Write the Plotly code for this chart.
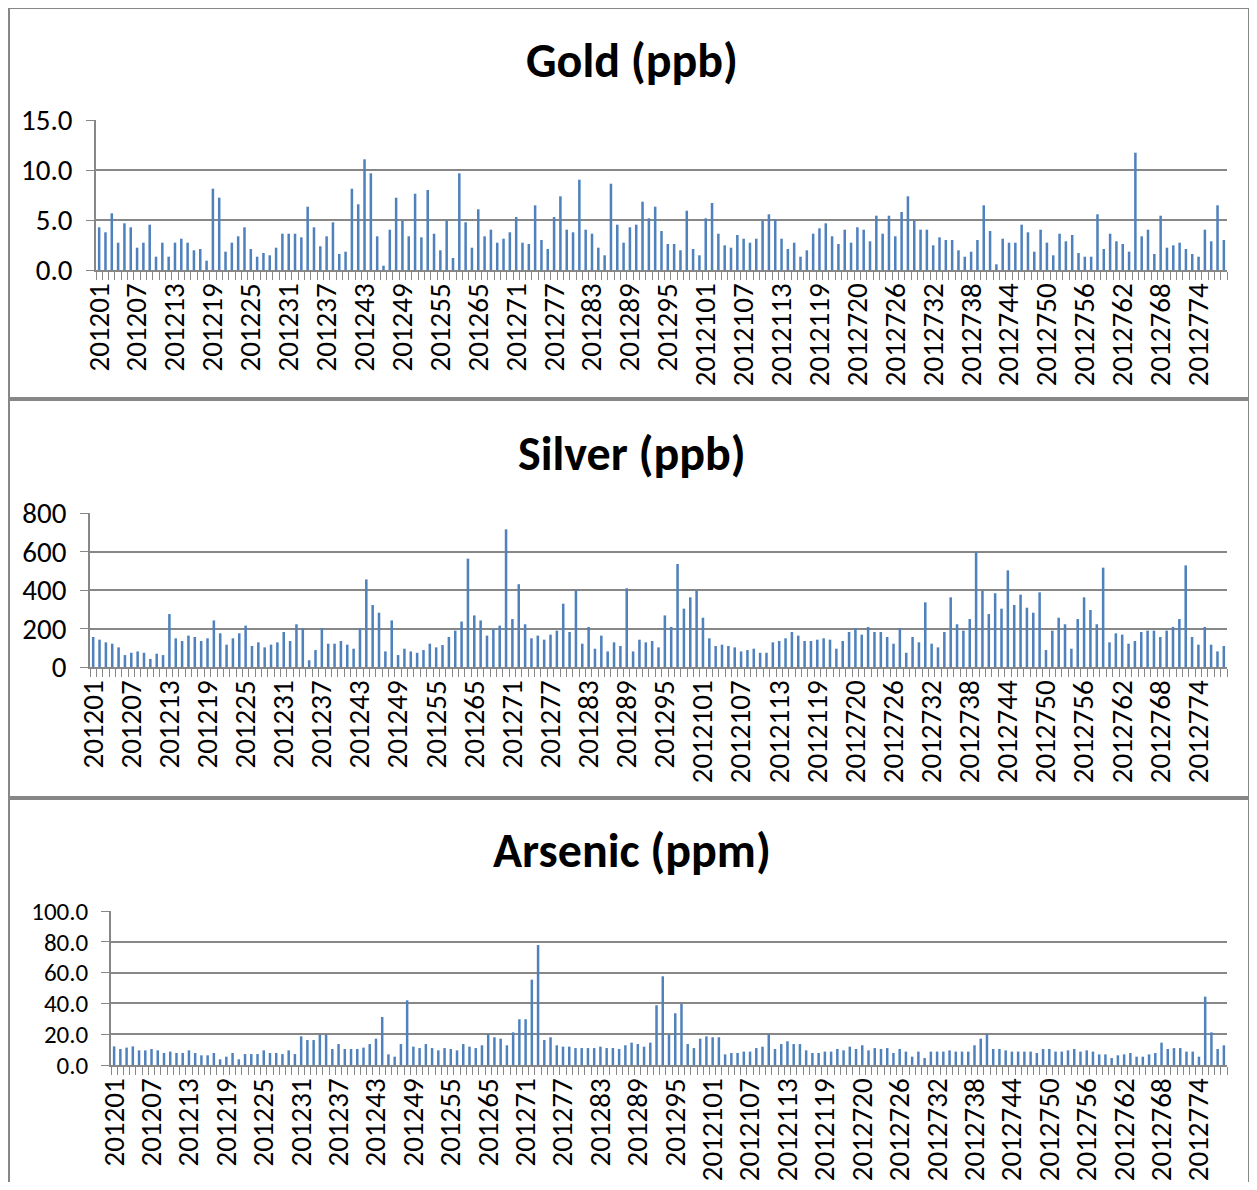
import plotly.graph_objects as go

# sample ids (categories) - every 6th one is labelled on the axis
sample_ids = ([f"2012{i:02d}" for i in range(1, 61)]
              + [f"2012{i}" for i in range(65, 101)]
              + [f"2012{i}" for i in range(101, 125)]
              + [f"20127{i:02d}" for i in range(20, 79)])

gold = [4.27, 3.77, 5.67, 2.73, 4.67, 4.27, 2.23, 2.73, 4.53, 1.33,
        2.73, 1.33, 2.73, 3.13, 2.73, 1.97, 2.1, 0.93, 8.13, 7.23,
        1.83, 2.73, 3.37, 4.27, 2.1, 1.33, 1.7, 1.47, 2.23, 3.63,
        3.63, 3.63, 3.27, 6.33, 4.27, 2.37, 3.37, 4.77, 1.6, 1.83,
        8.13, 6.57, 11.07, 9.67, 3.37,
        0.43, 4.03, 7.23, 4.93, 3.37, 7.63, 3.27, 8.0, 3.63, 1.97,
        4.93, 1.2, 9.67, 4.77, 2.23, 6.07, 3.37, 4.03, 2.73, 3.13,
        3.77, 5.3, 2.73, 2.6, 6.47, 3.0, 2.1, 5.3, 7.37, 4.03,
        3.77, 9.03, 4.03, 3.63, 2.23, 1.47, 8.63, 4.53, 2.73, 4.27,
        4.53, 6.83, 5.17, 6.33, 3.9,
        2.6, 2.6, 1.97, 5.93, 2.1, 1.47, 5.17, 6.7, 3.63, 2.47,
        2.23, 3.5, 3.13, 2.73, 3.13, 4.93, 5.57, 5.03, 3.13, 2.1,
        2.73, 1.33, 1.97, 3.63, 4.17, 4.67, 3.37, 2.6, 4.03, 2.73,
        4.27, 4.03, 2.87, 5.43, 3.63, 5.43, 3.37, 5.8, 7.37, 4.93,
        4.03, 4.03, 2.47, 3.27,
        3.0, 3.0, 1.97, 1.33, 1.83, 3.0, 6.47, 3.9, 0.57, 3.13,
        2.73, 2.73, 4.53, 3.77, 1.83, 4.03, 2.73, 1.47, 3.63, 2.87,
        3.5, 1.7, 1.33, 1.33, 5.57, 2.1, 3.63, 2.87, 2.6, 1.83,
        11.73, 3.37, 4.03, 1.6, 5.43, 2.23, 2.47, 2.73, 2.1, 1.6,
        1.33, 4.03, 2.87, 6.47, 3.0]

silver = [156, 142, 128, 121, 102, 62, 74, 81, 74, 42,
          69, 62, 275, 149, 135, 163, 156, 135, 149, 242,
          175, 116, 149, 175, 215, 109, 128, 102, 116, 128,
          182, 135, 222, 201, 35, 88, 201, 121, 121, 135,
          116, 95, 201, 455, 322, 282,
          81, 242, 62, 95, 81, 74, 88, 121, 102, 114,
          156, 189, 236, 563, 268, 242, 163, 196, 215, 715,
          249, 430, 222, 149, 163, 142, 168, 189, 329, 182,
          398, 121, 208, 95, 163, 81, 128, 109, 409, 81,
          142, 128, 135, 102,
          268, 208, 535, 303, 362, 397, 256, 149, 109, 116,
          109, 102, 81, 88, 95, 74, 74, 128, 135, 149,
          182, 163, 135, 135, 142, 149, 142, 95, 135, 182,
          201, 168, 208, 182, 182, 156, 121, 201, 74, 156,
          128, 336, 121, 102, 182,
          362, 222, 189, 249, 598, 397, 275, 383, 303, 502,
          322, 376, 308, 282, 388, 88, 189, 256, 222, 95,
          249, 362, 296, 222, 516, 128, 175, 168, 121, 135,
          182, 189, 189, 156, 189, 208, 249, 528, 156, 116,
          208, 116, 81, 109]

arsenic = [12.1, 10.4, 11.3, 12.1, 9.5, 9.5, 10.4, 9.5, 7.8, 8.7,
           7.8, 7.8, 9.5, 7.8, 6.3, 6.3, 7.8, 3.7, 5.4, 7.8,
           3.7, 7.1, 7.1, 7.1, 9.5, 7.8, 7.8, 7.1, 9.5, 7.1,
           18.6, 16.2, 16.2, 19.7, 19.7, 10.4, 13.6, 10.4, 10.4, 10.4,
           11.3, 13.6, 17.1,
           31.2, 6.9, 5.4, 13.6, 42.0, 11.9, 11.0, 13.6, 11.0, 9.5,
           11.0, 10.4, 9.5, 13.6, 11.9, 11.0, 12.8, 19.9, 18.0, 17.1,
           12.8, 21.2, 29.7, 29.7, 55.4, 77.9, 16.2, 18.0, 12.8, 11.9,
           11.9, 11.0, 11.0, 11.0, 11.0, 11.9, 11.0, 11.0, 10.4, 12.8,
           14.5, 13.6, 11.9, 14.5, 38.8, 57.6,
           19.7, 33.6, 39.8, 13.6, 11.0, 17.1, 18.6, 18.0, 18.0, 6.9,
           7.8, 7.8, 8.7, 8.7, 11.0, 11.9, 19.9, 10.4, 13.6, 15.4,
           13.6, 13.6, 9.5, 7.8, 7.8, 8.7, 8.7, 10.4, 9.5, 11.9,
           10.4, 12.8, 9.5, 11.0, 10.4, 11.0, 7.8, 10.4, 8.7, 5.4,
           8.7, 4.5, 8.7, 8.7, 8.7,
           9.5, 8.7, 8.7, 8.7, 12.8, 17.1, 19.9, 10.4, 10.4, 9.5,
           8.7, 8.7, 8.7, 8.7, 7.8, 10.4, 10.4, 8.7, 8.7, 9.5,
           10.4, 8.7, 9.5, 8.7, 6.9, 6.9, 4.5, 6.3, 6.9, 7.8,
           5.4, 5.4, 6.9, 7.8, 14.5, 10.4, 11.0, 11.0, 8.7, 8.7,
           5.4, 44.4, 21.2, 10.4, 12.8]

titles = ["Gold (ppb)", "Silver (ppb)", "Arsenic (ppm)"]

# page layout in screen pixels (body margin is 8px)
W, H = 1241, 1174
def px(x):
    return (x - 8) / W
def py(y):
    return 1 - (y - 8) / H

BLUE = "#4F81BD"
GRID = "#878787"
FONT = "Calibri, Carlito, Lato, sans-serif"

panels = [
    # (values, plot left, plot top, plot bottom, y max, dtick, format, title y, y font)
    (gold, 96, 120, 270, 15, 5, ".1f", 60, 29),
    (silver, 90, 513, 667, 800, 200, "d", 453, 29),
    (arsenic, 111, 911, 1065, 100, 20, ".1f", 851, 25),
]

ticktext = [c if i % 6 == 0 else "" for i, c in enumerate(sample_ids)]

fig = go.Figure()
annotations = []
for k, (vals, left, top, bottom, ymax, dt, fmt, ty, yfs) in enumerate(panels):
    n = "" if k == 0 else str(k + 1)
    fig.add_trace(go.Bar(x=sample_ids, y=vals, marker_color=BLUE,
                         marker_line_width=0, xaxis="x" + n, yaxis="y" + n,
                         showlegend=False))
    fig.update_layout({
        "xaxis" + n: dict(domain=[px(left), px(1227)], anchor="y" + n,
                          type="category", tickmode="array",
                          tickvals=sample_ids, ticktext=ticktext,
                          tickangle=-90, tickson="boundaries",
                          ticks="outside", ticklen=8, tickcolor=GRID,
                          showline=True, linecolor=GRID, linewidth=1.5,
                          showgrid=False, fixedrange=True, automargin=False,
                          tickfont=dict(family=FONT, size=29, color="#000")),
        "yaxis" + n: dict(domain=[py(bottom), py(top)], anchor="x" + n,
                          range=[0, ymax], dtick=dt, tickformat=fmt,
                          showgrid=True, gridcolor=GRID, gridwidth=1.5,
                          ticks="outside", ticklen=8, tickcolor=GRID,
                          ticklabelstandoff=8,
                          showline=True, linecolor=GRID, linewidth=1.5,
                          zeroline=False, fixedrange=True, automargin=False,
                          tickfont=dict(family=FONT, size=yfs, color="#000")),
    })
    annotations.append(dict(text="<b>" + titles[k] + "</b>", x=px(632),
                            y=py(ty), xref="paper", yref="paper",
                            showarrow=False, xanchor="center", yanchor="middle",
                            font=dict(family=FONT, size=48, color="#000")))

# chart frames
shapes = []
for y0, y1 in [(8, 398), (400, 797), (799, 1200)]:
    shapes.append(dict(type="rect", xref="paper", yref="paper",
                       x0=px(9), x1=px(1249), y0=py(y1), y1=py(y0),
                       line=dict(color=GRID, width=2)))

fig.update_layout(width=W, height=H, margin=dict(l=0, r=0, t=0, b=0, autoexpand=False),
                  paper_bgcolor="white", plot_bgcolor="white",
                  bargap=0.6, annotations=annotations, shapes=shapes)

fig.write_html("out.html")
